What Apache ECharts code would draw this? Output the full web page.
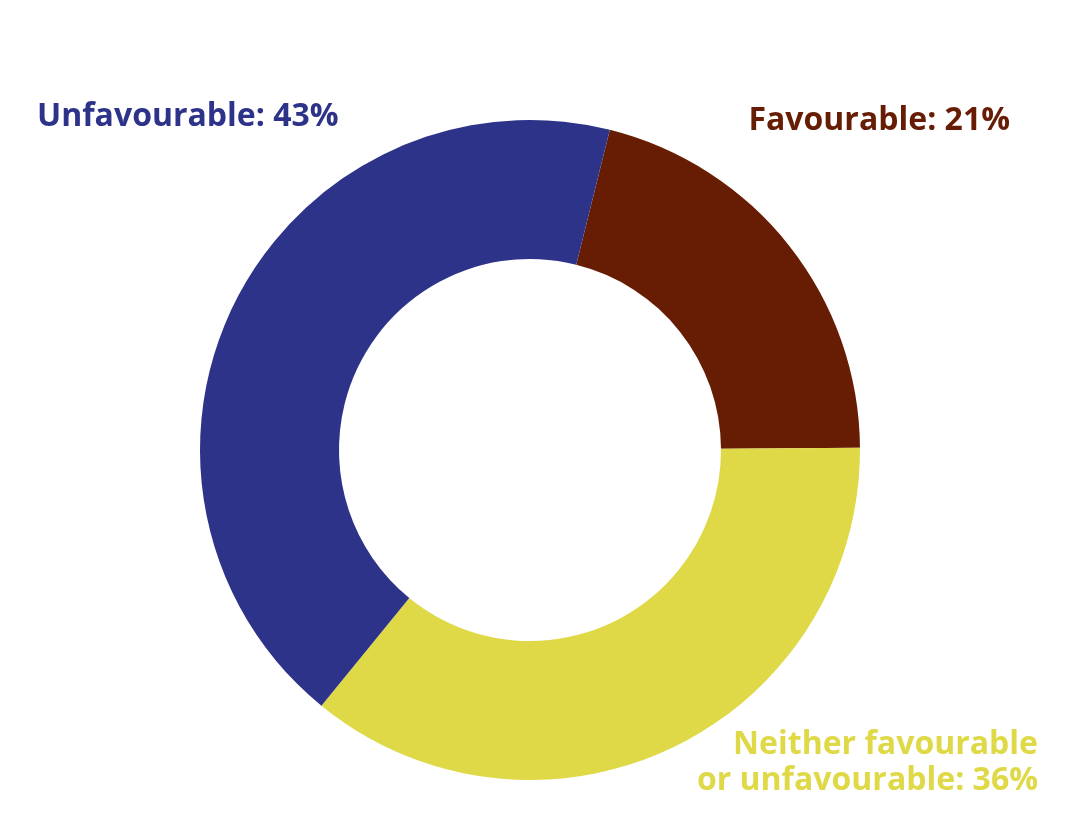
<!DOCTYPE html>
<html>
<head>
<meta charset="utf-8">
<script src="https://cdn.jsdelivr.net/npm/echarts@6/dist/echarts.min.js"></script>
<style>
html,body{margin:0;padding:0;background:#fff;}
#chart{width:1068px;height:836px;}
</style>
</head>
<body>
<div id="chart"></div>
<script>
const categories = ['Favourable', 'Neither favourable\nor unfavourable', 'Unfavourable'];
const values = [21, 36, 43];
const colors = ['#661d04', '#dfd948', '#2e338a'];

const labelPlacement = [
  { x: 1010, y: 121, align: 'right' },
  { x: 1038, y: 763, align: 'right' },
  { x: 37, y: 117, align: 'left' }
];

const chart = echarts.init(document.getElementById('chart'), null, { renderer: 'canvas' });
chart.setOption({
  backgroundColor: '#ffffff',
  animation: false,
  series: [{
    type: 'pie',
    center: [530, 450],
    radius: [191, 330],
    startAngle: 76,
    clockwise: true,
    avoidLabelOverlap: false,
    itemStyle: { borderWidth: 0 },
    label: {
      show: true,
      position: 'outside',
      fontFamily: 'Open Sans',
      fontWeight: 700,
      fontSize: 32,
      lineHeight: 36,
      formatter: p => p.name + ': ' + p.value + '%',
      color: 'inherit'
    },
    labelLine: { show: false },
    labelLayout: function (params) {
      const pl = labelPlacement[params.dataIndex];
      return { x: pl.x, y: pl.y, align: pl.align, verticalAlign: 'middle', hideOverlap: false };
    },
    emphasis: { disabled: true },
    data: categories.map((c, i) => ({
      name: c,
      value: values[i],
      itemStyle: { color: colors[i] },
      label: { color: colors[i], align: labelPlacement[i].align }
    }))
  }]
});
</script>
</body>
</html>
